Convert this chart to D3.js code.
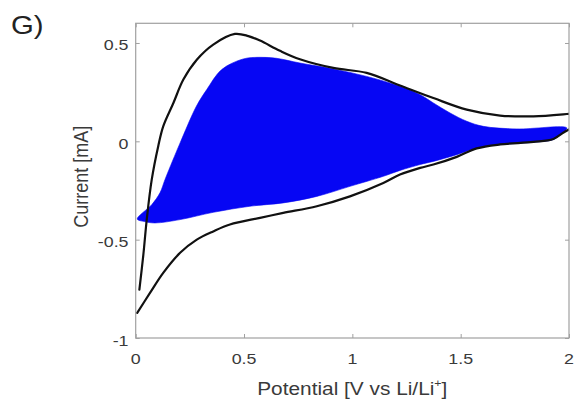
<!DOCTYPE html>
<html>
<head>
<meta charset="utf-8">
<script src="https://cdn.jsdelivr.net/npm/d3@7"></script>
<style>
  html, body { margin: 0; padding: 0; background: #fff; }
  svg text { font-family: "Liberation Sans", Arial, sans-serif; }
</style>
</head>
<body>
<svg id="chart" width="577" height="402"></svg>
<script>
// Cyclic voltammogram: potential (V vs Li/Li+) and current (mA)

// Black CV — anodic sweep (upper branch)
const anodicV = [0.017, 0.035, 0.051, 0.074, 0.104, 0.127, 0.174, 0.22, 0.282, 0.358, 0.458, 0.52, 0.574, 0.666, 0.758, 0.912, 1.066, 1.22, 1.374, 1.528, 1.682, 1.836, 1.99, 2.0];
const anodicI = [-0.754, -0.58, -0.398, -0.195, -0.025, 0.076, 0.195, 0.314, 0.415, 0.492, 0.546, 0.535, 0.512, 0.46, 0.417, 0.373, 0.348, 0.284, 0.22, 0.161, 0.131, 0.127, 0.139, 0.14];

// Black CV — cathodic sweep (lower branch)
const cathodicV = [2.0, 1.975, 1.928, 1.836, 1.682, 1.574, 1.482, 1.374, 1.313, 1.22, 1.143, 0.989, 0.836, 0.681, 0.574, 0.435, 0.358, 0.282, 0.205, 0.127, 0.066, 0.007];
const cathodicI = [0.06, 0.045, 0.012, -0.003, -0.016, -0.036, -0.079, -0.118, -0.135, -0.169, -0.212, -0.28, -0.33, -0.364, -0.389, -0.423, -0.458, -0.5, -0.567, -0.669, -0.771, -0.872];

// Blue CV band — upper edge (left to right)
const bandTopV = [0.007, 0.074, 0.112, 0.135, 0.17, 0.205, 0.28, 0.328, 0.397, 0.497, 0.574, 0.65, 0.758, 0.912, 1.066, 1.22, 1.313, 1.374, 1.451, 1.528, 1.605, 1.759, 1.99];
const bandTopI = [-0.395, -0.322, -0.262, -0.195, -0.10, -0.008, 0.178, 0.263, 0.365, 0.419, 0.427, 0.422, 0.398, 0.368, 0.33, 0.28, 0.237, 0.195, 0.144, 0.102, 0.076, 0.063, 0.068];

// Blue CV band — lower edge (right to left)
const bandBotV = [1.96, 1.928, 1.836, 1.682, 1.574, 1.482, 1.374, 1.313, 1.22, 1.143, 0.989, 0.836, 0.681, 0.528, 0.358, 0.205, 0.089, 0.04];
const bandBotI = [0.035, 0.009, -0.005, -0.017, -0.034, -0.068, -0.102, -0.118, -0.148, -0.178, -0.229, -0.28, -0.313, -0.33, -0.361, -0.398, -0.415, -0.408];

const xTicks = [0, 0.5, 1, 1.5, 2];
const yTicks = [-1, -0.5, 0, 0.5];
const xTickLabels = ["0", "0.5", "1", "1.5", "2"];
const yTickLabels = ["-1", "-0.5", "0", "0.5"];

const svg = d3.select("#chart");
const mLeft = 135.7, mRight = 569, mTop = 23.3, mBottom = 338;
const stretch = 1.15; // type is set slightly wide

const x = d3.scaleLinear().domain([0, 2]).range([mLeft, mRight]);
const y = d3.scaleLinear().domain([-1, 0.6]).range([mBottom, mTop]);

svg.append("defs").append("clipPath").attr("id", "plotClip")
  .append("rect").attr("x", mLeft).attr("y", mTop)
  .attr("width", mRight - mLeft).attr("height", mBottom - mTop);

const plot = svg.append("g").attr("clip-path", "url(#plotClip)");

// Blue band
const bandPts = bandTopV.map((v, i) => [v, bandTopI[i]])
  .concat(bandBotV.map((v, i) => [v, bandBotI[i]]));
plot.append("path")
  .attr("d", d3.line().x(d => x(d[0])).y(d => y(d[1])).curve(d3.curveCatmullRomClosed.alpha(0.5))(bandPts))
  .attr("fill", "#0606f4")
  .attr("stroke", "#0606f4")
  .attr("stroke-width", 0.6);

// Black CV branches
const branchLine = d3.line().x(d => x(d[0])).y(d => y(d[1])).curve(d3.curveCatmullRom.alpha(0.5));
[
  anodicV.map((v, i) => [v, anodicI[i]]),
  cathodicV.map((v, i) => [v, cathodicI[i]])
].forEach(pts => {
  plot.append("path")
    .attr("d", branchLine(pts))
    .attr("fill", "none")
    .attr("stroke", "#111")
    .attr("stroke-width", 2.2)
    .attr("stroke-linejoin", "round")
    .attr("stroke-linecap", "round");
});

// Box axes with inward ticks
const axisColor = "#a0a0a0";
const tickLen = 4;
const textColor = "#3a3a3a";

svg.append("rect")
  .attr("x", mLeft).attr("y", mTop)
  .attr("width", mRight - mLeft).attr("height", mBottom - mTop)
  .attr("fill", "none").attr("stroke", axisColor).attr("stroke-width", 1.2);

function plainTicks(axis, tx, ty) {
  const g = svg.append("g").attr("transform", `translate(${tx},${ty})`).call(axis);
  g.select(".domain").remove();
  g.selectAll("line").attr("stroke", axisColor);
  g.selectAll("text").remove();
}
plainTicks(d3.axisBottom(x).tickValues(xTicks).tickSizeInner(-tickLen).tickSizeOuter(0), 0, mBottom);
plainTicks(d3.axisTop(x).tickValues(xTicks).tickSizeInner(-tickLen).tickSizeOuter(0), 0, mTop);
plainTicks(d3.axisLeft(y).tickValues(yTicks).tickSizeInner(-tickLen).tickSizeOuter(0), mLeft, 0);
plainTicks(d3.axisRight(y).tickValues(yTicks).tickSizeInner(-tickLen).tickSizeOuter(0), mRight, 0);

// Tick labels
svg.append("g").selectAll("text").data(xTicks).join("text")
  .attr("transform", d => `translate(${x(d)},363.5) scale(${stretch},1)`)
  .attr("text-anchor", "middle")
  .attr("fill", textColor).attr("font-size", 15.5)
  .text((d, i) => xTickLabels[i]);

svg.append("g").selectAll("text").data(yTicks).join("text")
  .attr("transform", d => `translate(128.5,${y(d) + 7.5}) scale(${stretch},1)`)
  .attr("text-anchor", "end")
  .attr("fill", textColor).attr("font-size", 15.5)
  .text((d, i) => yTickLabels[i]);

// Axis titles
const xl = svg.append("text")
  .attr("transform", `translate(352.3,395) scale(${stretch * 0.98},1)`)
  .attr("text-anchor", "middle")
  .attr("fill", textColor).attr("font-size", 18.5);
xl.append("tspan").text("Potential [V vs Li/Li");
xl.append("tspan").attr("font-size", 11).attr("dy", -8).text("+");
xl.append("tspan").attr("dy", 8).text("]");

svg.append("text")
  .attr("transform", `translate(88.3,176.7) scale(${stretch},1) rotate(-90)`)
  .attr("text-anchor", "middle")
  .attr("fill", textColor).attr("font-size", 18)
  .text("Current [mA]");

// Panel label
svg.append("text")
  .attr("transform", `translate(11,34) scale(${stretch},1)`)
  .attr("fill", "#222").attr("font-size", 25.5)
  .text("G)");
</script>
</body>
</html>
